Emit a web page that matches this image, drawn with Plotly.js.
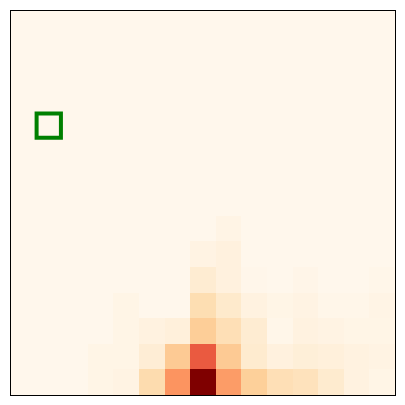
<!DOCTYPE html>
<html><head><meta charset="utf-8">
<script src="https://cdn.plot.ly/plotly-3.0.1.min.js"></script>
<style>html,body{margin:0;padding:0;background:#fff;}</style>
</head><body><div id="chart" style="width:405px;height:405px;"></div>
<script>
// rows listed top (row 0) to bottom (row 14); columns 0..14
const row0  = [0,0,0,0,0,0,0,0,0,0,0,0,0,0,0];
const row1  = [0,0,0,0,0,0,0,0,0,0,0,0,0,0,0];
const row2  = [0,0,0,0,0,0,0,0,0,0,0,0,0,0,0];
const row3  = [0,0,0,0,0,0,0,0,0,0,0,0,0,0,0];
const row4  = [0,0,0,0,0,0,0,0,0,0,0,0,0,0,0];
const row5  = [0,0,0,0,0,0,0,0,0,0,0,0,0,0,0];
const row6  = [0,0,0,0,0,0,0,0,0,0,0,0,0,0,0];
const row7  = [0,0,0,0,0,0,0,0,0,0,0,0,0,0,0];
const row8  = [0,0,0,0,0,0,0,0,0.025,0,0,0,0,0,0];
const row9  = [0,0,0,0,0,0,0,0.03,0.05,0,0,0,0,0,0];
const row10 = [0,0,0,0,0,0,0,0.09,0.05,0.008,0,0.015,0,0,0.01];
const row11 = [0,0,0,0,0.02,0,0,0.19,0.11,0.04,0.02,0.03,0.01,0.01,0.025];
const row12 = [0,0,0,0,0.02,0.04,0.06,0.28,0.18,0.09,0.01,0.04,0.03,0.02,0.02];
const row13 = [0,0,0,0.02,0.02,0.08,0.30,0.65,0.30,0.10,0.05,0.07,0.06,0.04,0.03];
const row14 = [0,0,0,0.02,0.03,0.20,0.48,1.00,0.46,0.27,0.18,0.16,0.10,0.04,0.02];
const zRows = [row0,row1,row2,row3,row4,row5,row6,row7,row8,row9,row10,row11,row12,row13,row14];

// highlighted cell (column, row from top)
const markCol = 1;
const markRow = 4;

const orRd = [
  [0,'#fff7ec'],[0.125,'#fee8c8'],[0.25,'#fdd49e'],[0.375,'#fdbb84'],
  [0.5,'#fc8d59'],[0.625,'#ef6548'],[0.75,'#d7301f'],[0.875,'#b30000'],[1,'#7f0000']
];

const trace = {
  type:'heatmap', z:zRows, colorscale:orRd, zmin:0, zmax:1,
  showscale:false, hoverinfo:'skip'
};

const layout = {
  width:405, height:405,
  margin:{l:11,r:10,t:11,b:10,pad:0},
  paper_bgcolor:'#ffffff', plot_bgcolor:'#ffffff',
  xaxis:{range:[-0.5,14.5], showticklabels:false, ticks:'', showgrid:false, zeroline:false,
         showline:true, mirror:true, linecolor:'#000', linewidth:1.3},
  yaxis:{range:[14.5,-0.5], showticklabels:false, ticks:'', showgrid:false, zeroline:false,
         showline:true, mirror:true, linecolor:'#000', linewidth:1.3},
  shapes:[{type:'rect', xref:'x', yref:'y',
           x0:markCol-0.5, x1:markCol+0.45, y0:markRow-0.5, y1:markRow+0.45,
           line:{color:'#008000', width:4}, fillcolor:'rgba(0,0,0,0)'}]
};

Plotly.newPlot('chart',[trace],layout,{displayModeBar:false,staticPlot:true});
</script></body></html>
